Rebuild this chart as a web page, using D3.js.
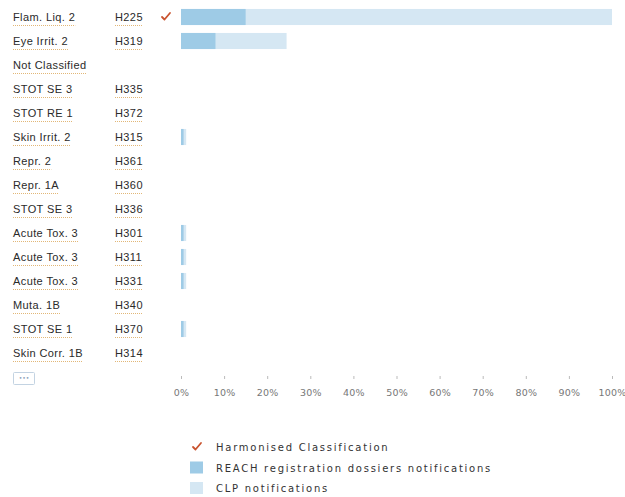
<!DOCTYPE html>
<html>
<head>
<meta charset="utf-8">
<script src="https://cdn.jsdelivr.net/npm/d3@7"></script>
<style>
  body { margin: 0; background: #fff; }
  .lbl { font-family: "Liberation Sans", Arial, sans-serif; font-size: 11px; fill: #2a2a2a; letter-spacing: 0.4px; }
  .tick text { font-family: "DejaVu Sans", sans-serif; font-size: 9.5px; fill: #777; letter-spacing: 0.2px; }
  .leg { font-family: "DejaVu Sans", sans-serif; font-size: 10px; fill: #333; letter-spacing: 1.75px; }
</style>
</head>
<body>
<div id="chart"></div>
<script>
// classification rows, top to bottom
var categories= ["Flam. Liq. 2", "Eye Irrit. 2", "Not Classified", "STOT SE 3", "STOT RE 1",
	"Skin Irrit. 2", "Repr. 2", "Repr. 1A", "STOT SE 3", "Acute Tox. 3", "Acute Tox. 3",
	"Acute Tox. 3", "Muta. 1B", "STOT SE 1", "Skin Corr. 1B"];
var codes= ["H225", "H319", "", "H335", "H372", "H315", "H361", "H360", "H336",
	"H301", "H311", "H331", "H340", "H370", "H314"];
var harmonised= [true, false, false, false, false, false, false, false, false,
	false, false, false, false, false, false];
// percentages
var reach_values= [15, 8, 0, 0, 0, 0.6, 0, 0, 0, 0.6, 0.6, 0.6, 0, 0.6, 0];
var clp_values= [100, 24.5, 0, 0, 0, 1.2, 0, 0, 0, 1.2, 1.2, 1.2, 0, 1.2, 0];
var tick_values= [0, 10, 20, 30, 40, 50, 60, 70, 80, 90, 100];
var legend_labels= ["Harmonised Classification", "REACH registration dossiers notifications", "CLP notifications"];

var width= 625, height= 497;
var col_dark= "#9ecbe6", col_light= "#d5e7f3", col_check= "#c9532f";

var svg= d3.select("#chart").append("svg")
	.attr("width", width)
	.attr("height", height);

var x= d3.scaleLinear().domain([0, 100]).range([181, 612]);
var y= d3.scaleBand()
	.domain(d3.range(categories.length))
	.range([5, 5+ categories.length* 24])
	.paddingInner(0.33)
	.paddingOuter(0.165);

// row labels with dotted underline
function label(txt, xpos, i) {
	if (!txt) return;
	var cy= y(i)+ y.bandwidth()/2;
	var t= svg.append("text")
		.attr("class", "lbl")
		.attr("x", xpos)
		.attr("y", cy+ 4)
		.text(txt);
	var w= t.node().getComputedTextLength();
	svg.append("line")
		.attr("x1", xpos).attr("x2", xpos+ w)
		.attr("y1", cy+ 8.5).attr("y2", cy+ 8.5)
		.attr("stroke", "#e2b777")
		.attr("stroke-width", 1)
		.attr("stroke-dasharray", "1,1");
}

categories.forEach(function(c, i) {
	label(c, 13, i);
	label(codes[i], 115, i);
});

// check marks
function check(g, cx, cy) {
	g.append("path")
		.attr("d", "M" + (cx- 4) + "," + (cy) + " L" + (cx- 1.5) + "," + (cy+ 2.5) + " L" + (cx+ 4) + "," + (cy- 4))
		.attr("fill", "none")
		.attr("stroke", col_check)
		.attr("stroke-width", 1.8)
		.attr("stroke-linecap", "round")
		.attr("stroke-linejoin", "round");
}

harmonised.forEach(function(h, i) {
	if (h) check(svg, 166, y(i)+ y.bandwidth()/2);
});

// bars
svg.selectAll("rect.clp")
	.data(clp_values)
	.enter().append("rect")
	.attr("class", "clp")
	.attr("x", x(0))
	.attr("y", function(d, i) { return y(i); })
	.attr("width", function(d) { return x(d)- x(0); })
	.attr("height", y.bandwidth())
	.attr("fill", col_light);

svg.selectAll("rect.reach")
	.data(reach_values)
	.enter().append("rect")
	.attr("class", "reach")
	.attr("x", x(0))
	.attr("y", function(d, i) { return y(i); })
	.attr("width", function(d) { return x(d)- x(0); })
	.attr("height", y.bandwidth())
	.attr("fill", col_dark);

// x axis
var axis= svg.append("g")
	.attr("transform", "translate(0,376)")
	.call(d3.axisBottom(x).tickValues(tick_values).tickSize(3).tickPadding(10)
		.tickFormat(function(d) { return d + "%"; }));
axis.select(".domain").remove();
axis.selectAll(".tick line").attr("stroke", "#bbb");

// "..." button
svg.append("rect")
	.attr("x", 13.5).attr("y", 372.5)
	.attr("width", 21).attr("height", 12)
	.attr("rx", 1)
	.attr("fill", "#fff")
	.attr("stroke", "#c3d3e2");
svg.append("text")
	.attr("x", 24).attr("y", 379.5)
	.attr("text-anchor", "middle")
	.attr("font-family", "DejaVu Sans")
	.attr("font-size", 6)
	.attr("fill", "#8aa0b8")
	.text("•••");

// legend
var leg_y= [447, 467.5, 488];
check(svg, 197, leg_y[0]);
svg.append("rect").attr("x", 190).attr("y", leg_y[1]- 6).attr("width", 13).attr("height", 12).attr("fill", col_dark);
svg.append("rect").attr("x", 190).attr("y", leg_y[2]- 6).attr("width", 13).attr("height", 12).attr("fill", col_light);
legend_labels.forEach(function(t, i) {
	svg.append("text")
		.attr("class", "leg")
		.attr("x", 216)
		.attr("y", leg_y[i]+ 4)
		.text(t);
});
</script>
</body>
</html>
